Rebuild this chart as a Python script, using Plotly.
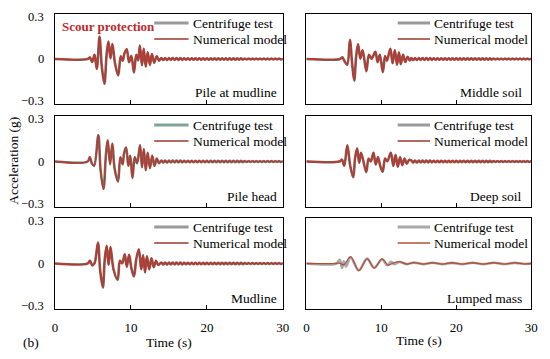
import numpy as np
import plotly.graph_objects as go

W, H = 550, 359
FONT = "Times New Roman, Liberation Serif, serif"

def px(x):
    return x / W

def py(y):
    return 1 - y / H

# ---------------- data ----------------
tail_t = np.round(np.arange(14.0, 30.0001, 0.25), 2).tolist()
ripple = [0.007, -0.007, 0.007, -0.007, 0.006, -0.006, 0.006, -0.006, 0.006, -0.006,
          0.006, -0.006, 0.005, -0.005, 0.005, -0.005, 0.005, -0.005, 0.005, -0.005,
          0.005, -0.005, 0.005, -0.005, 0.005, -0.005, 0.004, -0.004, 0.004, -0.004,
          0.004, -0.004, 0.004, -0.004, 0.004, -0.004, 0.004, -0.004, 0.004, -0.004,
          0.004, -0.004, 0.004, -0.004, 0.003, -0.003, 0.003, -0.003, 0.003, -0.003,
          0.003, -0.003, 0.003, -0.003, 0.003, -0.003, 0.003, -0.003, 0.003, -0.003,
          0.003, -0.003, 0.003, -0.003, 0.003]

# Pile at mudline
t_pm = [0, 4.3, 4.6, 4.9, 5.2, 5.5, 5.86, 6.15, 6.5, 6.8, 7.03, 7.3, 7.55, 7.9, 8.32, 8.65, 8.9,
        9.15, 9.44, 9.75, 10.05, 10.39, 10.7, 10.95, 11.17, 11.45, 11.68, 11.95, 12.2, 12.5,
        12.76, 13.05, 13.4, 13.7]
num_pm = [0, 0, 0.012, -0.02, 0.03, -0.07, 0.153, -0.05, -0.16, 0.03, 0.12, 0.0, 0.1, -0.03,
          -0.107, 0.02, -0.01, 0.04, 0.067, -0.02, 0.02, -0.087, 0.03, -0.01, 0.093, -0.04, 0.07,
          -0.053, 0.045, -0.04, 0.035, -0.025, 0.02, -0.012]
cen_pm = [0, 0, 0.01, -0.02, 0.028, -0.065, 0.148, -0.045, -0.165, 0.035, 0.115, 0.005, 0.1,
          -0.028, -0.11, 0.018, -0.012, 0.038, 0.065, -0.022, 0.022, -0.09, 0.028, -0.008, 0.09,
          -0.042, 0.068, -0.05, 0.044, -0.038, 0.033, -0.024, 0.018, -0.011]

# Middle soil
t_ms = [0, 4.5, 4.8, 5.1, 5.45, 5.81, 6.1, 6.38, 6.65, 6.9, 7.2, 7.5, 8.0, 8.35, 8.7, 9.2, 9.5,
        9.8, 10.2, 10.5, 10.75, 11.2, 11.5, 11.8, 12.1, 12.35, 12.6, 12.9, 13.2, 13.5, 13.8]
num_ms = [0, 0, 0.01, -0.015, -0.04, 0.13, -0.03, -0.14, 0.02, 0.1, 0.0, 0.06, -0.08, 0.03, 0.0,
          0.05, -0.02, 0.03, -0.085, 0.02, -0.01, 0.07, -0.03, 0.06, -0.04, 0.045, -0.035, 0.03,
          -0.02, 0.015, -0.01]
cen_ms = [0, 0, 0.012, -0.015, -0.038, 0.126, -0.028, -0.145, 0.022, 0.098, 0.003, 0.058, -0.082,
          0.028, 0.002, 0.048, -0.022, 0.028, -0.088, 0.02, -0.012, 0.068, -0.028, 0.058, -0.038,
          0.044, -0.034, 0.028, -0.02, 0.014, -0.01]

# Pile head
t_ph = [0, 4.3, 4.57, 4.85, 5.15, 5.7, 6.0, 6.38, 6.7, 6.94, 7.25, 7.55, 7.85, 8.3, 8.6, 8.9, 9.1,
        9.36, 9.65, 9.9, 10.2, 10.5, 10.8, 11.2, 11.45, 11.7, 11.95, 12.2, 12.5, 12.8, 13.1, 13.4,
        13.7]
num_ph = [0, 0, 0.03, -0.01, -0.03, 0.177, -0.06, -0.185, 0.04, 0.143, -0.02, 0.12, -0.05,
          -0.135, 0.03, -0.02, 0.06, 0.095, -0.03, 0.04, -0.11, 0.03, -0.01, 0.11, -0.04, 0.085,
          -0.06, 0.06, -0.045, 0.04, -0.03, 0.02, -0.012]
cen_ph = [0, 0, 0.028, -0.012, -0.028, 0.172, -0.055, -0.18, 0.042, 0.14, -0.018, 0.118, -0.048,
          -0.13, 0.028, -0.018, 0.058, 0.092, -0.028, 0.038, -0.108, 0.028, -0.012, 0.106, -0.038,
          0.082, -0.058, 0.058, -0.044, 0.038, -0.028, 0.019, -0.011]

# Deep soil
t_ds = [0, 4.4, 4.75, 5.05, 5.46, 5.85, 6.25, 6.5, 6.77, 7.05, 7.3, 7.99, 8.3, 8.6, 8.95, 9.25,
        9.55, 9.85, 10.18, 10.5, 10.8, 11.27, 11.6, 11.9, 12.2, 12.5, 12.8, 13.1, 13.4, 13.7]
num_ds = [0, 0, 0.01, -0.03, 0.11, -0.03, -0.10, 0.02, 0.088, -0.01, 0.06, -0.068, 0.02, 0.0,
          0.06, -0.02, 0.03, -0.03, -0.065, 0.02, 0.0, 0.06, -0.03, 0.045, -0.035, 0.03, -0.025,
          0.02, -0.015, 0.01]
cen_ds = [0, 0, 0.012, -0.028, 0.106, -0.028, -0.104, 0.022, 0.085, -0.008, 0.058, -0.07, 0.018,
          0.002, 0.058, -0.02, 0.028, -0.028, -0.068, 0.02, 0.002, 0.058, -0.028, 0.044, -0.034,
          0.028, -0.024, 0.019, -0.014, 0.01]

# Mudline
t_ml = [0, 4.3, 4.6, 4.9, 5.2, 5.65, 5.95, 6.3, 6.55, 6.8, 7.05, 7.3, 7.7, 8.24, 8.55, 8.85, 9.18,
        9.45, 9.75, 10.05, 10.39, 10.7, 11.04, 11.35, 11.6, 11.85, 12.1, 12.4, 12.7, 13.0, 13.3,
        13.6]
num_ml = [0, 0, 0.02, -0.01, 0.0, 0.14, -0.05, -0.153, 0.03, 0.12, -0.01, 0.11, -0.04, -0.104,
          0.02, 0.0, 0.063, -0.02, 0.06, -0.03, -0.083, 0.03, 0.096, -0.04, 0.055, -0.06, 0.05,
          -0.04, 0.035, -0.025, 0.018, -0.01]
cen_ml = [0, 0, 0.018, -0.012, 0.002, 0.136, -0.048, -0.158, 0.028, 0.116, -0.008, 0.108, -0.038,
          -0.108, 0.018, 0.002, 0.06, -0.022, 0.058, -0.028, -0.086, 0.028, 0.092, -0.038, 0.054,
          -0.058, 0.048, -0.038, 0.034, -0.024, 0.017, -0.01]

# Lumped mass
t_lm_num = [0, 4.0, 4.4, 5.0, 5.9, 7.0, 8.1, 9.05, 10.1, 10.9, 11.6, 12.4, 13.4, 14.3, 15.6, 16.8,
            18.2, 19.4, 20.8, 22.2, 23.6, 25.0, 26.4, 27.8, 29.2, 30.0]
num_lm = [0, 0, 0.003, -0.008, 0.045, -0.047, 0.03, -0.03, 0.03, -0.01, 0.004, 0.012, -0.004,
          0.006, -0.004, 0.005, -0.004, 0.005, -0.004, 0.005, -0.004, 0.005, -0.004, 0.005,
          -0.003, 0]
t_lm_cen = [0, 4.0, 4.45, 4.75, 5.0, 5.3, 5.9, 7.0, 8.1, 9.05, 10.1, 10.8, 11.3, 11.7, 12.4,
            13.4, 14.3, 15.6, 16.8, 18.2, 19.4, 20.8, 22.2, 23.6, 25.0, 26.4, 27.8, 29.2, 30.0]
cen_lm = [0, 0, 0.025, -0.03, 0.015, -0.02, 0.04, -0.045, 0.032, -0.028, 0.028, -0.012, 0.012,
          -0.005, 0.01, -0.004, 0.006, -0.004, 0.005, -0.004, 0.004, -0.004, 0.005, -0.004, 0.005,
          -0.003, 0.004, -0.003, 0]

panel_names = ["Pile at mudline", "Middle soil", "Pile head", "Deep soil", "Mudline", "Lumped mass"]
legend_names = ["Centrifuge test", "Numerical model"]
x_ticks = [0, 10, 20, 30]
y_ticks = [-0.3, 0, 0.3]
y_ticktext = ["\u22120.3", "0", "0.3"]
y_label_shift = [3, 0, -3]   # nudge the range-end labels apart between stacked panels

series = [
    (t_pm + tail_t, cen_pm + ripple, t_pm + tail_t, num_pm + ripple),
    (t_ms + tail_t, cen_ms + ripple, t_ms + tail_t, num_ms + ripple),
    (t_ph + tail_t, cen_ph + ripple, t_ph + tail_t, num_ph + ripple),
    (t_ds + tail_t, cen_ds + ripple, t_ds + tail_t, num_ds + ripple),
    (t_ml + tail_t, cen_ml + ripple, t_ml + tail_t, num_ml + ripple),
    (t_lm_cen, cen_lm, t_lm_num, num_lm),
]

# ---------------- layout geometry (pixels) ----------------
col_x = [(53, 285), (309, 538)]
row_y = [(14, 104), (116, 207), (218, 309)]

CEN_COLOR = "#6e6a60"
NUM_COLOR = "#cc2e28"
CEN_COLORS = [CEN_COLOR, CEN_COLOR, "#5f7f72", CEN_COLOR, CEN_COLOR, "#a8a8a8"]
NUM_COLORS = [NUM_COLOR] * 5 + ["#b0503a"]
LEG_CEN = ["#9a9a9a", "#9a9a9a", "#7fa397", "#9a9a9a", "#9a9a9a", "#a8a8a8"]

fig = go.Figure()
layout = dict(
    width=W, height=H,
    margin=dict(l=0, r=0, t=0, b=0),
    paper_bgcolor="white", plot_bgcolor="white",
    showlegend=False,
    font=dict(family=FONT, size=13, color="black"),
)
annotations = []
shapes = []

for i in range(6):
    r, c = divmod(i, 2)
    x0, x1 = col_x[c]
    y0, y1 = row_y[r]
    k = i + 1
    xa = "x" if k == 1 else f"x{k}"
    ya = "y" if k == 1 else f"y{k}"
    tc, vc, tn, vn = series[i]
    fig.add_trace(go.Scatter(x=tc, y=vc, mode="lines", name=legend_names[0],
                             line=dict(color=CEN_COLORS[i], width=2.6, shape="spline", smoothing=1.0),
                             xaxis=xa, yaxis=ya, hoverinfo="skip"))
    fig.add_trace(go.Scatter(x=tn, y=vn, mode="lines", name=legend_names[1],
                             line=dict(color=NUM_COLORS[i], width=1.3, shape="spline", smoothing=1.0),
                             xaxis=xa, yaxis=ya, hoverinfo="skip"))
    layout["xaxis" if k == 1 else f"xaxis{k}"] = dict(
        domain=[px(x0), px(x1)], anchor=ya, range=[0, 30],
        tickvals=x_ticks, ticks="inside", ticklen=4, tickcolor="black", tickwidth=1,
        showline=True, linecolor="black", linewidth=1, mirror=True,
        showgrid=False, zeroline=False, showticklabels=(r == 2),
        ticklabelstandoff=6, tickfont=dict(family=FONT, size=13),
    )
    layout["yaxis" if k == 1 else f"yaxis{k}"] = dict(
        domain=[py(y1), py(y0)], anchor=xa, range=[-0.3, 0.3],
        tickvals=y_ticks, ticks="",
        showline=True, linecolor="black", linewidth=1, mirror=True,
        showgrid=False, zeroline=False, showticklabels=False,
    )
    # y tick labels of the left column, placed at the axis values
    if c == 0:
        for val, txt, sh in zip(y_ticks, y_ticktext, y_label_shift):
            annotations.append(dict(xref="paper", yref=ya, x=px(44), y=val, yshift=sh,
                                    xanchor="right", yanchor="middle", showarrow=False,
                                    text=txt, font=dict(family=FONT, size=12.5, color="black")))
    # legend (line samples + text)
    if c == 0:
        lx0, lx1, tx = 154, 189, 191
    else:
        lx0, lx1, tx = 402, 435, 437
    ly1, ly2 = y0 + 9, y0 + 25
    shapes.append(dict(type="line", xref="paper", yref="paper",
                       x0=px(lx0), x1=px(lx1), y0=py(ly1), y1=py(ly1),
                       line=dict(color=LEG_CEN[i], width=3)))
    shapes.append(dict(type="line", xref="paper", yref="paper",
                       x0=px(lx0), x1=px(lx1), y0=py(ly2), y1=py(ly2),
                       line=dict(color=NUM_COLORS[i] if i == 5 else "#9b3a2a", width=1.5)))
    for yy, txt in ((ly1, legend_names[0]), (ly2, legend_names[1])):
        annotations.append(dict(xref="paper", yref="paper", x=px(tx), y=py(yy),
                                xanchor="left", yanchor="middle", showarrow=False,
                                text=txt, font=dict(family=FONT, size=13.5, color="black")))
    # panel label
    rx = x1 - 4 if c == 0 else x1 - 7
    annotations.append(dict(xref="paper", yref="paper", x=px(rx), y=py(y1 - 11),
                            xanchor="right", yanchor="middle", showarrow=False,
                            text=panel_names[i], font=dict(family=FONT, size=13.5, color="black")))

annotations += [
    dict(xref="paper", yref="paper", x=px(58), y=py(27), xanchor="left", yanchor="middle",
         showarrow=False, text="<b>Scour protection</b>",
         font=dict(family=FONT, size=13, color="#c0282d")),
    dict(xref="paper", yref="paper", x=px(10), y=py(161), xanchor="center", yanchor="middle",
         showarrow=False, text="Acceleration (g)", textangle=-90,
         font=dict(family=FONT, size=13.5, color="black")),
    dict(xref="paper", yref="paper", x=px(169), y=py(342), xanchor="center", yanchor="middle",
         showarrow=False, text="Time (s)", font=dict(family=FONT, size=13.5, color="black")),
    dict(xref="paper", yref="paper", x=px(424), y=py(340), xanchor="center", yanchor="middle",
         showarrow=False, text="Time (s)", font=dict(family=FONT, size=13.5, color="black")),
    dict(xref="paper", yref="paper", x=px(29), y=py(342), xanchor="center", yanchor="middle",
         showarrow=False, text="(b)", font=dict(family=FONT, size=13.5, color="black")),
]
layout["annotations"] = annotations
layout["shapes"] = shapes
fig.update_layout(**layout)
fig.write_html(
    "out.html",
    config={"displayModeBar": False, "staticPlot": True},
    post_script="document.body.style.margin='0';document.body.style.padding='0';"
                "document.documentElement.style.overflow='hidden';",
)
